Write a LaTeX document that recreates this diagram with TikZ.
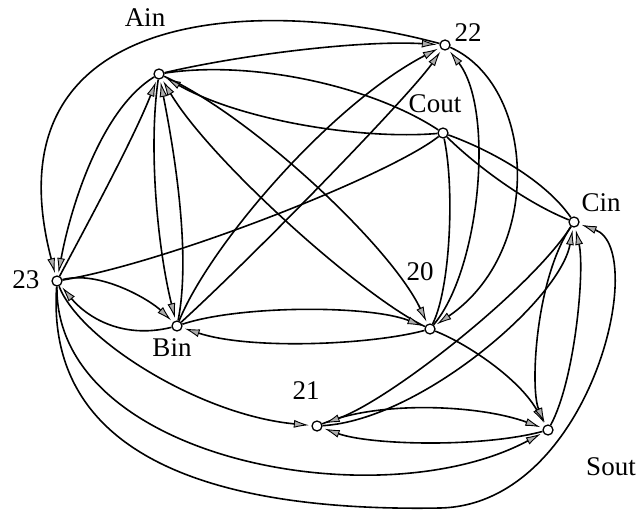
\documentclass[tikz,border=0pt]{standalone}
\usepackage{fontspec}
\setmainfont{Liberation Serif}
\usetikzlibrary{arrows.meta,backgrounds}
\begin{document}
\begin{tikzpicture}[x=1pt,y=-1pt,
  vtx/.style={circle,draw,fill=white,inner sep=0pt,minimum size=10pt,line width=1.3pt},
  lbl/.style={font=\fontsize{27}{30}\selectfont,inner sep=0pt},
  edge/.style={line width=1.6pt},
  arr/.style={edge,-{Latex[length=15pt,width=8pt,fill=gray!65,line width=0.9pt]},shorten >=2.5pt}]
\useasboundingbox (0,0) rectangle (640,516);
\node[vtx] (Ain) at (159,74) {};
\node[vtx] (n22) at (445,45) {};
\node[vtx] (Cout) at (443,133) {};
\node[vtx] (Cin) at (574,222) {};
\node[vtx] (n23) at (57,281) {};
\node[vtx] (Bin) at (177,326) {};
\node[vtx] (n20) at (430,329) {};
\node[vtx] (n21) at (317,426) {};
\node[vtx] (Sout) at (548,430) {};
\node[lbl] (lAin) at (145,18) {Ain};
\node[lbl] (l22) at (468,33) {22};
\node[lbl] (lCout) at (435,104) {Cout};
\node[lbl] (lCin) at (601,203) {Cin};
\node[lbl] (l23) at (26,280) {23};
\node[lbl] (lBin) at (172,348) {Bin};
\node[lbl] (l20) at (420,272) {20};
\node[lbl] (l21) at (306,391) {21};
\node[lbl] (lSout) at (611,467) {Sout};
\begin{pgfonlayer}{background}
\draw[arr] (n22) .. controls (260,-5) and (-15,5) .. (n23);
\draw[arr] (Ain) .. controls (240,55) and (360,40) .. (n22);
\draw[edge] (Ain) .. controls (250,60) and (370,85) .. (Cout);
\draw[arr] (Cout) .. controls (360,140) and (240,120) .. (Ain);
\draw[edge] (Cout) .. controls (490,150) and (545,180) .. (Cin);
\draw[edge] (Cout) .. controls (470,160) and (520,200) .. (Cin);
\draw[edge] (Cout) .. controls (455,190) and (450,290) .. (n20);
\draw[arr] (n20) .. controls (480,270) and (495,110) .. (n22);
\draw[arr] (n22) .. controls (535,85) and (545,250) .. (n20);
\draw[arr] (Ain) .. controls (250,115) and (390,245) .. (n20);
\draw[arr] (n20) .. controls (360,295) and (210,160) .. (Ain);
\draw[arr] (Ain) .. controls (100,110) and (70,210) .. (n23);
\draw[arr] (n23) .. controls (95,210) and (135,135) .. (Ain);
\draw[arr] (Ain) .. controls (148,150) and (158,250) .. (Bin);
\draw[arr] (Bin) .. controls (192,250) and (172,140) .. (Ain);
\draw[arr] (n23) .. controls (100,270) and (150,300) .. (Bin);
\draw[arr] (Bin) .. controls (120,340) and (85,315) .. (n23);
\draw[arr] (Bin) .. controls (240,305) and (370,305) .. (n20);
\draw[arr] (n20) .. controls (370,345) and (250,350) .. (Bin);
\draw[arr] (Bin) .. controls (210,245) and (330,105) .. (n22);
\draw[arr] (Bin) .. controls (260,250) and (410,95) .. (n22);
\draw[edge] (Cout) .. controls (390,175) and (170,262) .. (n23);
\draw[arr] (n23) .. controls (80,340) and (200,415) .. (n21);
\draw[arr] (n23) .. controls (55,460) and (380,520) .. (Sout);
\draw[arr] (n23) .. controls (45,460) and (220,512) .. (440,508) .. controls (590,505) and (650,250) .. (Cin);
\draw[arr] (n21) .. controls (380,400) and (480,405) .. (Sout);
\draw[arr] (Sout) .. controls (480,448) and (370,445) .. (n21);
\draw[arr] (n20) .. controls (470,345) and (520,380) .. (Sout);
\draw[arr] (Cin) .. controls (535,280) and (530,390) .. (Sout);
\draw[arr] (Sout) .. controls (575,380) and (585,270) .. (Cin);
\draw[arr] (Cin) .. controls (530,290) and (390,400) .. (n21);
\draw[arr] (n21) .. controls (420,420) and (560,300) .. (Cin);
\end{pgfonlayer}
\end{tikzpicture}
\end{document}
